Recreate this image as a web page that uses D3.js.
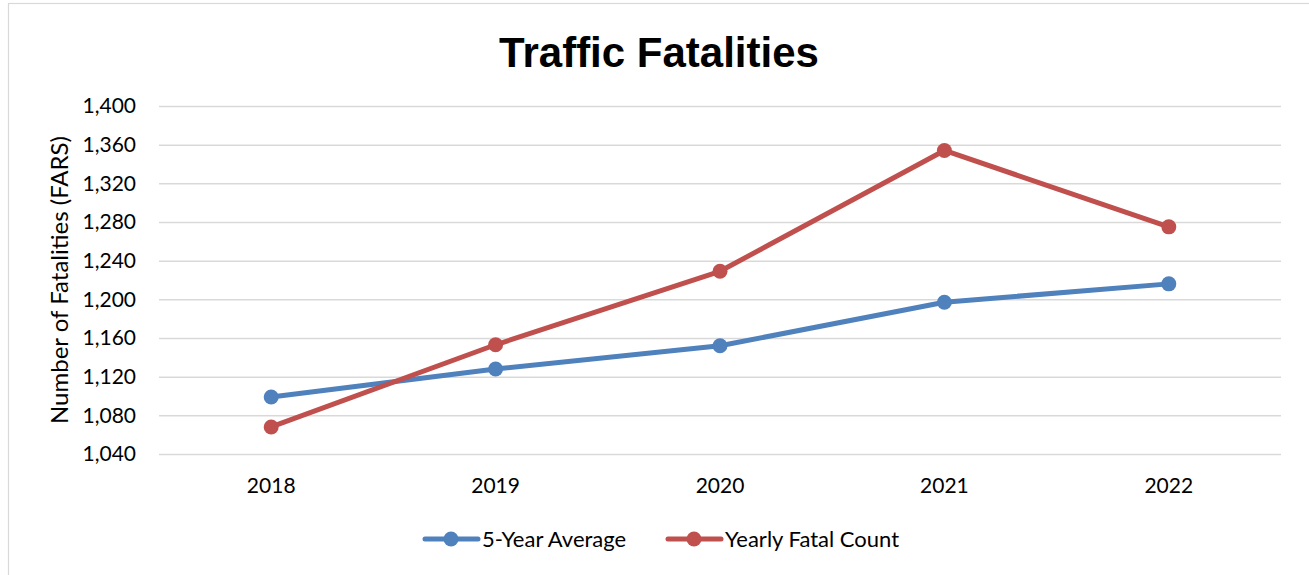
<!DOCTYPE html>
<html>
<head>
<meta charset="utf-8">
<script src="https://cdn.jsdelivr.net/npm/d3@7"></script>
<style>
  html, body { margin: 0; padding: 0; background: #fff; }
  svg { display: block; }
</style>
</head>
<body>
<svg id="chart" width="1309" height="575"></svg>
<script>
const years = ["2018", "2019", "2020", "2021", "2022"];
const fiveYearAverage = [1099, 1128, 1152, 1197, 1216];
const yearlyFatalCount = [1068, 1153, 1229, 1354, 1275];
const yTicks = [1040, 1080, 1120, 1160, 1200, 1240, 1280, 1320, 1360, 1400];
const seriesNames = ["5-Year Average", "Yearly Fatal Count"];
const seriesColors = ["#4F81BD", "#C0504D"];

(function () {
const svg = d3.select("#chart");
const W = 1309, H = 575;
const pLeft = 159, pRight = 1281, pTop = 106, pBottom = 454;
const font = "Lato, 'Open Sans', sans-serif";

// outer border
svg.append("rect")
  .attr("x", 8.5).attr("y", 3.5)
  .attr("width", W + 10).attr("height", H + 10)
  .attr("fill", "#fff").attr("stroke", "#d9d9d9").attr("stroke-width", 1.2);

const x = d3.scaleBand().domain(years).range([pLeft, pRight]);
const y = d3.scaleLinear().domain([1040, 1400]).range([pBottom, pTop]);

// gridlines
const yAxis = d3.axisLeft(y).tickValues(yTicks).tickSize(-(pRight - pLeft))
  .tickFormat(d3.format(","));
const gy = svg.append("g").attr("transform", `translate(${pLeft},0)`).call(yAxis);
gy.select(".domain").remove();
gy.selectAll(".tick line").attr("stroke", "#d9d9d9").attr("stroke-width", 1.5);
gy.selectAll(".tick text")
  .attr("x", -23)
  .attr("fill", "#000")
  .style("font-family", font).style("font-size", "21px");

// x axis labels
const xAxis = d3.axisBottom(x).tickSize(0);
const gx = svg.append("g").attr("transform", `translate(0,${pBottom})`).call(xAxis);
gx.select(".domain").remove();
gx.selectAll(".tick text")
  .attr("dy", 0).attr("y", 39)
  .attr("fill", "#000")
  .style("font-family", font).style("font-size", "21px");

// title
svg.append("text")
  .attr("x", 659).attr("y", 67)
  .attr("text-anchor", "middle")
  .style("font-family", "'Liberation Sans', Arial, sans-serif")
  .style("font-weight", "bold").style("font-size", "42px")
  .text("Traffic Fatalities");

// y axis title
svg.append("text")
  .attr("transform", `translate(68,${(pTop + pBottom) / 2}) rotate(-90)`)
  .attr("text-anchor", "middle")
  .style("font-family", font).style("font-size", "24px")
  .text("Number of Fatalities (FARS)");

// series
const series = [fiveYearAverage, yearlyFatalCount];
const line = d3.line()
  .x((d, i) => x(years[i]) + x.bandwidth() / 2)
  .y(d => y(d));

series.forEach((vals, si) => {
  svg.append("path")
    .datum(vals)
    .attr("d", line)
    .attr("fill", "none")
    .attr("stroke", seriesColors[si])
    .attr("stroke-width", 5)
    .attr("stroke-linejoin", "round")
    .attr("stroke-linecap", "round");
  svg.selectAll(null)
    .data(vals)
    .enter().append("circle")
    .attr("cx", (d, i) => x(years[i]) + x.bandwidth() / 2)
    .attr("cy", d => y(d))
    .attr("r", 7.5)
    .attr("fill", seriesColors[si]);
});

// legend
const legendY = 539;
const legendX = [425, 668];
seriesNames.forEach((name, i) => {
  const x0 = legendX[i];
  const g = svg.append("g");
  g.append("line")
    .attr("x1", x0).attr("x2", x0 + 53)
    .attr("y1", legendY).attr("y2", legendY)
    .attr("stroke", seriesColors[i]).attr("stroke-width", 5)
    .attr("stroke-linecap", "round");
  g.append("circle")
    .attr("cx", x0 + 26).attr("cy", legendY).attr("r", 7.5)
    .attr("fill", seriesColors[i]);
  g.append("text")
    .attr("x", x0 + 57).attr("y", legendY + 8)
    .style("font-family", font).style("font-size", "22px")
    .text(name);
});
})();
</script>
</body>
</html>
